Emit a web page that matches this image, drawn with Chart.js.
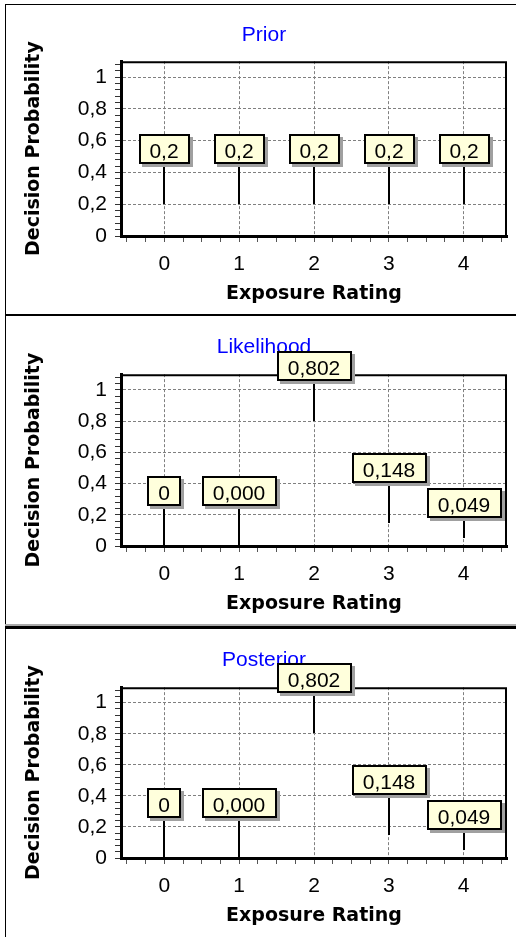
<!DOCTYPE html>
<html>
<head>
<meta charset="utf-8">
<title>Exposure Rating</title>
<script src="https://cdn.jsdelivr.net/npm/chart.js@4.4.1/dist/chart.umd.min.js"></script>
<style>
  html, body { margin: 0; padding: 0; background: #fff; }
  body { width: 516px; height: 937px; position: relative; overflow: hidden; }
  .rule { position: absolute; left: 5px; right: 0; }
  .vrule { position: absolute; left: 5px; top: 4px; width: 1px; bottom: 0; background: #000; }
  canvas { position: absolute; left: 6px; }
</style>
</head>
<body>
<div class="vrule"></div>
<div class="rule" style="top:4px;height:1px;background:#000"></div>
<div class="rule" style="top:314px;height:2px;background:#000"></div>
<div class="rule" style="top:624px;height:2px;background:#aaa"></div>
<div class="rule" style="top:626px;height:3px;background:#000"></div>
<canvas id="priorChart" width="510" height="306" style="top:6px"></canvas>
<canvas id="likelihoodChart" width="510" height="306" style="top:316px"></canvas>
<canvas id="posteriorChart" width="510" height="306" style="top:628px"></canvas>
<script>
const ratings = [0, 1, 2, 3, 4];
const ratingLabels = ["0", "1", "2", "3", "4"];
const priorValues = [0.2, 0.2, 0.2, 0.2, 0.2];
const likelihoodValues = [0, 0.0004, 0.802, 0.148, 0.049];
const posteriorValues = [0, 0.0004, 0.802, 0.148, 0.049];
const yMajorTicks = [0, 0.2, 0.4, 0.6, 0.8, 1];
const yTickLabels = ["0", "0,2", "0,4", "0,6", "0,8", "1"];

const SANS = "'Liberation Sans', Arial, sans-serif";
const BOLD = "'DejaVu Sans', Verdana, sans-serif";
const GRID = "#808080";

function near(a, b) { return Math.abs(a - b) < 1e-6; }

// 0 -> "0", 0.2 -> "0,2", 0.0004 -> "0,000"
function formatValue(v) {
  let s;
  if (v === 0) s = "0";
  else if (near(v * 1000, Math.round(v * 1000))) s = String(v);
  else s = v.toFixed(3);
  return s.replace(".", ",");
}

function makeChart(id, title, values, lift, titlePad) {
  // callout boxes with a stem down to the value
  const callouts = {
    id: "callouts",
    beforeDatasetsDraw(chart) {
      const a = chart.chartArea, ctx = chart.ctx;
      ctx.save();
      ctx.strokeStyle = "#000";
      ctx.lineWidth = 2;
      ctx.beginPath();
      ctx.moveTo(a.left, a.top + 1);
      ctx.lineTo(a.right - 1, a.top + 1);
      ctx.lineTo(a.right - 1, a.bottom);
      ctx.stroke();
      ctx.restore();
    },
    afterDraw(chart) {
      const ctx = chart.ctx;
      const meta = chart.getDatasetMeta(0);
      const data = chart.data.datasets[0].data;
      ctx.save();
      ctx.font = "21px " + SANS;
      meta.data.forEach((pt, i) => {
        const text = formatValue(data[i].y);
        const x = Math.round(pt.x), y = Math.round(pt.y);
        const bottom = y - lift[i];
        const w = Math.round(ctx.measureText(text).width + 22);
        const h = 30;
        const left = Math.round(x - w / 2), top = bottom - h;
        ctx.fillStyle = "#000";
        ctx.fillRect(x - 1, bottom, 2, y - bottom);
        ctx.fillStyle = "#a0a0a0";
        ctx.fillRect(left + 3, top + 3, w, h);
        ctx.fillStyle = "#ffffdc";
        ctx.fillRect(left, top, w, h);
        ctx.strokeStyle = "#000";
        ctx.lineWidth = 2;
        ctx.strokeRect(left + 1, top + 1, w - 2, h - 2);
        ctx.fillStyle = "#000";
        ctx.textAlign = "center";
        ctx.textBaseline = "alphabetic";
        ctx.fillText(text, x, top + 24);
      });
      ctx.restore();
    }
  };

  return new Chart(document.getElementById(id), {
    type: "scatter",
    data: {
      datasets: [{
        label: title,
        data: ratings.map((r, i) => ({ x: r, y: values[i] })),
        pointRadius: 0,
        pointHoverRadius: 0,
        showLine: false
      }]
    },
    options: {
      responsive: false,
      animation: false,
      events: [],
      layout: { padding: { left: 15, right: 9, top: 0, bottom: 0 } },
      plugins: {
        legend: { display: false },
        tooltip: { enabled: false },
        title: {
          display: true,
          text: title,
          color: "#0000ff",
          font: { family: SANS, size: 21, weight: "normal", lineHeight: 1.15 },
          padding: titlePad
        }
      },
      scales: {
        x: {
          type: "linear",
          min: -0.58,
          max: 4.58,
          afterBuildTicks(scale) {
            const t = [];
            for (let k = -2; k <= 18; k++) t.push({ value: k / 4 });
            scale.ticks = t;
          },
          afterFit(scale) { scale.height = 76; },
          ticks: {
            autoSkip: false,
            maxRotation: 0,
            padding: 10,
            color: "#000",
            font: { family: SANS, size: 21 },
            callback(v) {
              const i = ratings.findIndex(r => near(r, v));
              return i >= 0 ? ratingLabels[i] : "";
            }
          },
          grid: {
            color: c => ratings.some(r => near(r, c.tick.value)) ? GRID : "rgba(0,0,0,0)",
            tickColor: "#555",
            tickLength: 6
          },
          border: { color: "#000", width: 3, dash: [3, 2] },
          title: {
            display: true,
            text: "Exposure Rating",
            color: "#000",
            font: { family: BOLD, size: 19, weight: "bold" },
            padding: { top: 0, bottom: 7 }
          }
        },
        y: {
          min: 0,
          max: 1.1,
          afterBuildTicks(scale) {
            const t = [];
            for (let k = 0; k <= 27; k++) t.push({ value: Math.round(k * 4) / 100 });
            scale.ticks = t;
          },
          afterFit(scale) { scale.width = 100; },
          ticks: {
            autoSkip: false,
            padding: 8,
            color: "#000",
            font: { family: SANS, size: 21 },
            callback(v) {
              const i = yMajorTicks.findIndex(m => near(m, v));
              return i >= 0 ? yTickLabels[i] : "";
            }
          },
          grid: {
            color: c => yMajorTicks.some(m => near(m, c.tick.value)) ? GRID : "rgba(0,0,0,0)",
            tickColor: "#333",
            tickLength: 6
          },
          border: { color: "#000", width: 3, dash: [3, 2] },
          title: {
            display: true,
            text: "Decision Probability",
            color: "#000",
            font: { family: BOLD, size: 19, weight: "bold" },
            padding: { top: 2, bottom: 0 }
          }
        }
      }
    },
    plugins: [callouts]
  });
}

makeChart("priorChart", "Prior", priorValues, [40, 40, 40, 40, 40], { top: 17, bottom: 14 });
makeChart("likelihoodChart", "Likelihood", likelihoodValues, [40, 40, 40, 40, 20], { top: 19, bottom: 15 });
makeChart("posteriorChart", "Posterior", posteriorValues, [40, 40, 40, 40, 20], { top: 20, bottom: 15 });
</script>
</body>
</html>
